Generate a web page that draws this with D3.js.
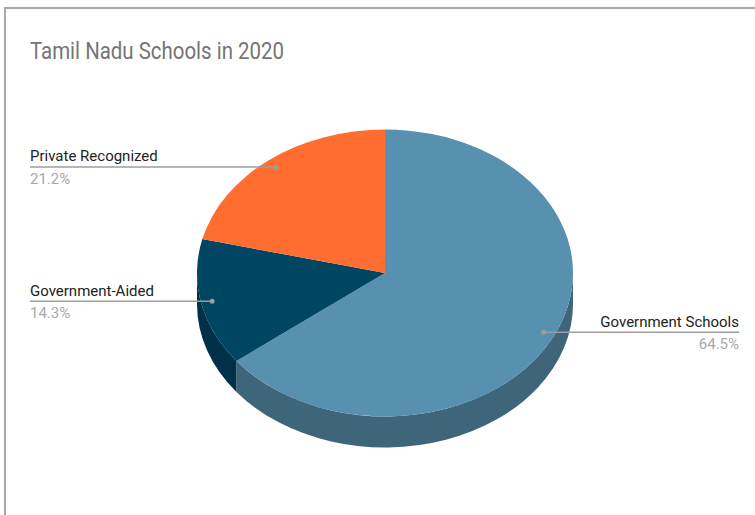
<!DOCTYPE html>
<html>
<head>
<meta charset="utf-8">
<script src="https://cdn.jsdelivr.net/npm/d3@7"></script>
<style>
  html, body { margin: 0; padding: 0; background: #fff; }
  svg { display: block; }
</style>
</head>
<body>
<svg id="chart" width="755" height="515"></svg>
<script>
// School categories and their share of schools (percent)
const categories = ["Government Schools", "Government-Aided", "Private Recognized"];
const shares = [64.5, 14.3, 21.2];
const shareLabels = ["64.5%", "14.3%", "21.2%"];
const topColors = ["#5891b0", "#004561", "#ff6d31"];
const sideColors = ["#3e6579", "#003148", "#b34d22"];

const svg = d3.select("#chart");
const W = 755, H = 515;

// frame: top and left rule
svg.append("line").attr("x1", 5).attr("x2", W).attr("y1", 8).attr("y2", 8)
  .attr("stroke", "#a8a8a8").attr("stroke-width", 2);
svg.append("line").attr("x1", 5).attr("x2", 5).attr("y1", 7).attr("y2", H)
  .attr("stroke", "#a8a8a8").attr("stroke-width", 2);

svg.append("text").attr("x", 30).attr("y", 58.5)
  .attr("font-family", "Roboto, Arial, sans-serif").attr("font-size", 23)
  .attr("textLength", 254).attr("lengthAdjust", "spacingAndGlyphs")
  .attr("fill", "#757575").text("Tamil Nadu Schools in 2020");

// tilted pie geometry
const cx = 385, cy = 273, rx = 188, ry = 143.5, depth = 31;
const pt = (a, dy = 0, f = 1) => [cx + f * rx * Math.sin(a), cy - f * ry * Math.cos(a) + dy];

const pie = d3.pie().sort(null).value(d => d.v);
const data = pie(categories.map((c, i) => ({ c, v: shares[i], i })));

const g = svg.append("g");

// side walls (front half only: angles between PI/2 and 3PI/2)
data.forEach(d => {
  const s = Math.max(d.startAngle, Math.PI / 2);
  const e = Math.min(d.endAngle, 3 * Math.PI / 2);
  if (e <= s) return;
  const p0 = pt(s), p1 = pt(e), b1 = pt(e, depth), b0 = pt(s, depth);
  const large = (e - s) > Math.PI ? 1 : 0;
  const path = `M${p0}A${rx},${ry} 0 ${large} 1 ${p1}L${b1}A${rx},${ry} 0 ${large} 0 ${b0}Z`;
  g.append("path").attr("d", path).attr("fill", sideColors[d.data.i]);
});

// top faces
data.forEach(d => {
  const p0 = pt(d.startAngle), p1 = pt(d.endAngle);
  const large = (d.endAngle - d.startAngle) > Math.PI ? 1 : 0;
  const path = `M${cx},${cy}L${p0}A${rx},${ry} 0 ${large} 1 ${p1}Z`;
  g.append("path").attr("d", path).attr("fill", topColors[d.data.i]);
});

// callout labels
const labelFont = "Roboto, Arial, sans-serif";
data.forEach(d => {
  const mid = (d.startAngle + d.endAngle) / 2;
  const [ax, ay] = pt(mid, 0, 0.94);
  const right = Math.sin(mid) > 0;
  const ex = right ? 739 : 30;
  const anchor = right ? "end" : "start";
  svg.append("line").attr("x1", ax).attr("y1", ay).attr("x2", ex).attr("y2", ay)
    .attr("stroke", "#9e9e9e").attr("stroke-width", 1.5);
  svg.append("circle").attr("cx", ax).attr("cy", ay).attr("r", 2.5).attr("fill", "#9e9e9e");
  svg.append("text").attr("x", ex).attr("y", ay - 5.5).attr("text-anchor", anchor)
    .attr("font-family", labelFont).attr("font-size", 15).attr("fill", "#222")
    .text(d.data.c);
  svg.append("text").attr("x", ex).attr("y", ay + 17).attr("text-anchor", anchor)
    .attr("font-family", labelFont).attr("font-size", 15).attr("fill", "#a8a8a8")
    .text(shareLabels[d.data.i]);
});
</script>
</body>
</html>
